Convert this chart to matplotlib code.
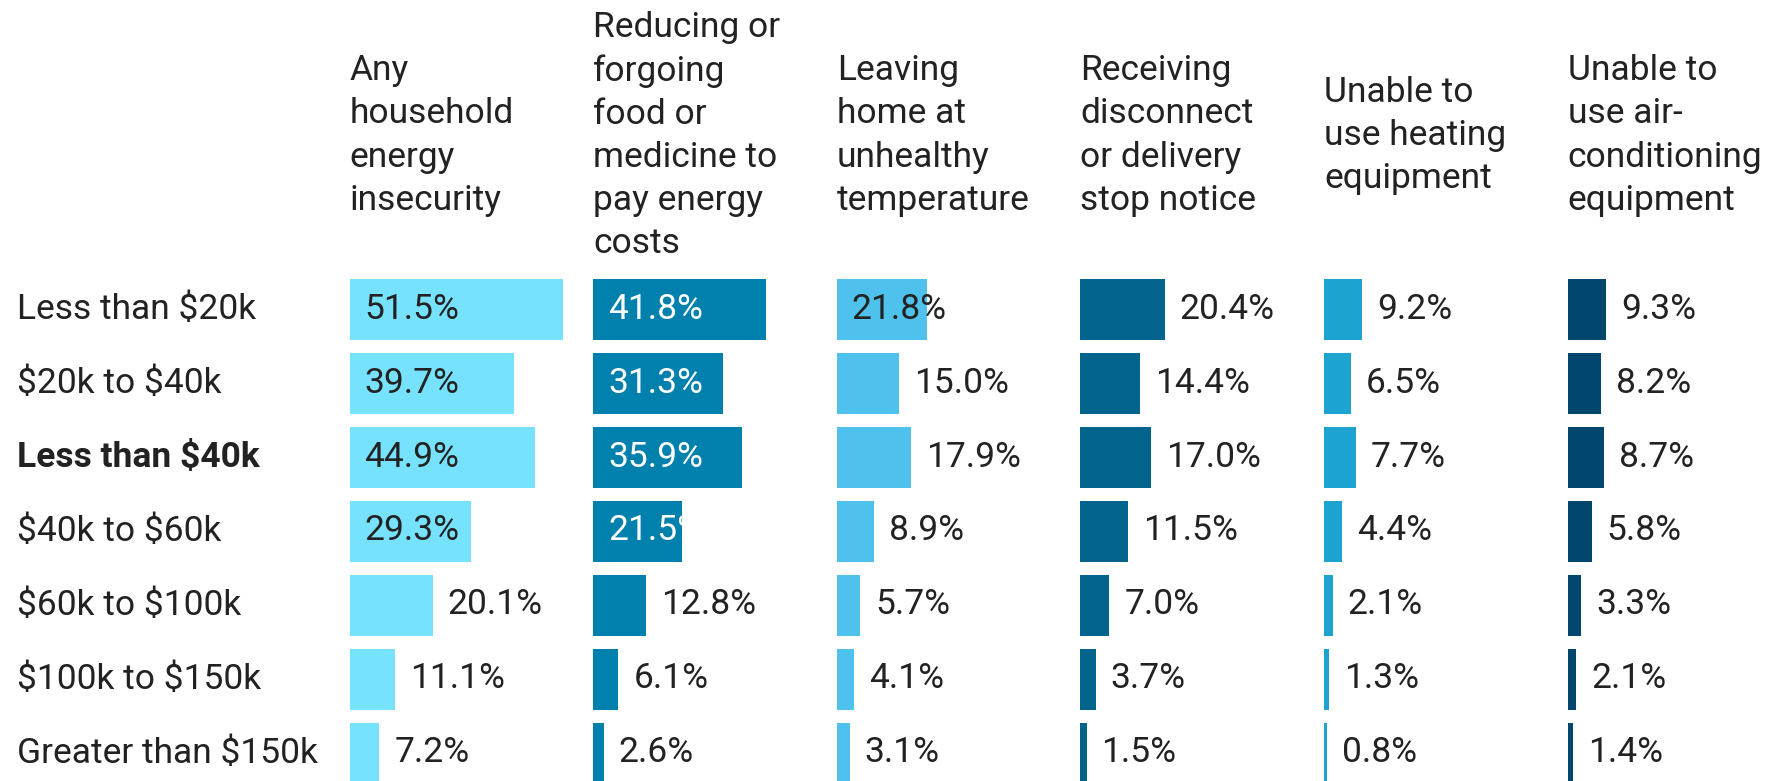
import matplotlib.pyplot as plt
import matplotlib.transforms as mtransforms

plt.rcParams['font.family'] = ['Roboto', 'DejaVu Sans']
plt.rcParams['text.parse_math'] = False

incomes = ["Less than $20k", "$20k to $40k", "Less than $40k", "$40k to $60k",
           "$60k to $100k", "$100k to $150k", "Greater than $150k"]
bold_rows = ["Less than $40k"]

headers = [
    "Any\nhousehold\nenergy\ninsecurity",
    "Reducing or\nforgoing\nfood or\nmedicine to\npay energy\ncosts",
    "Leaving\nhome at\nunhealthy\ntemperature",
    "Receiving\ndisconnect\nor delivery\nstop notice",
    "Unable to\nuse heating\nequipment",
    "Unable to\nuse air-\nconditioning\nequipment",
]

any_insecurity = [51.5, 39.7, 44.9, 29.3, 20.1, 11.1, 7.2]
forgo_food = [41.8, 31.3, 35.9, 21.5, 12.8, 6.1, 2.6]
unhealthy_temp = [21.8, 15.0, 17.9, 8.9, 5.7, 4.1, 3.1]
disconnect = [20.4, 14.4, 17.0, 11.5, 7.0, 3.7, 1.5]
no_heating = [9.2, 6.5, 7.7, 4.4, 2.1, 1.3, 0.8]
no_ac = [9.3, 8.2, 8.7, 5.8, 3.3, 2.1, 1.4]

series = [any_insecurity, forgo_food, unhealthy_temp, disconnect, no_heating, no_ac]
colors = ["#77E2FE", "#0081AD", "#4EC1EC", "#02638C", "#1CA3D0", "#00466D"]
inside_text = ["#222222", "white", "#222222", "white", "#222222", "white"]

W, H = 1768, 781
fig = plt.figure(figsize=(W / 100, H / 100), dpi=100)

fs = 25.5
col_x0 = 349.5
col_w = 243.6
px_per_pct = 4.14
top_px, bot_px = 272, 790
threshold = 21

axes = []
for j, vals in enumerate(series):
    ax = fig.add_axes([(col_x0 + col_w * j) / W, (H - bot_px) / H,
                       col_w / W, (bot_px - top_px) / H])
    ax.set_xlim(0, col_w / px_per_pct)
    ax.set_ylim(len(incomes) - 0.5, -0.5)
    ax.axis('off')
    bars = ax.barh(range(len(vals)), vals, height=61 / 74, color=colors[j],
                   edgecolor='none')
    for i, (b, v) in enumerate(zip(bars, vals)):
        lab = f"{v:.1f}%"
        if v > threshold:
            # label sits inside the bar; white labels are cut at the bar edge
            t = ax.annotate(lab, (0, i), xytext=(10.8, 0), textcoords='offset points',
                            ha='left', va='center', fontsize=fs, color=inside_text[j])
            if inside_text[j] == "white":
                t.set_clip_path(b)
        else:
            ax.annotate(lab, (v, i), xytext=(10.8, 0), textcoords='offset points',
                        ha='left', va='center', fontsize=fs, color="#222222")
    fig.text((col_x0 + col_w * j) / W, 1 - 135.5 / H, headers[j], ha='left',
             va='center', fontsize=fs, color="#222222", linespacing=1.39)
    axes.append(ax)

trans = mtransforms.blended_transform_factory(fig.transFigure, axes[0].transData)
for i, name in enumerate(incomes):
    axes[0].text(17 / W, i, name, transform=trans, ha='left', va='center',
                 fontsize=fs, color="#222222",
                 fontweight='bold' if name in bold_rows else 'normal')

fig.savefig("out.png", dpi=100)
